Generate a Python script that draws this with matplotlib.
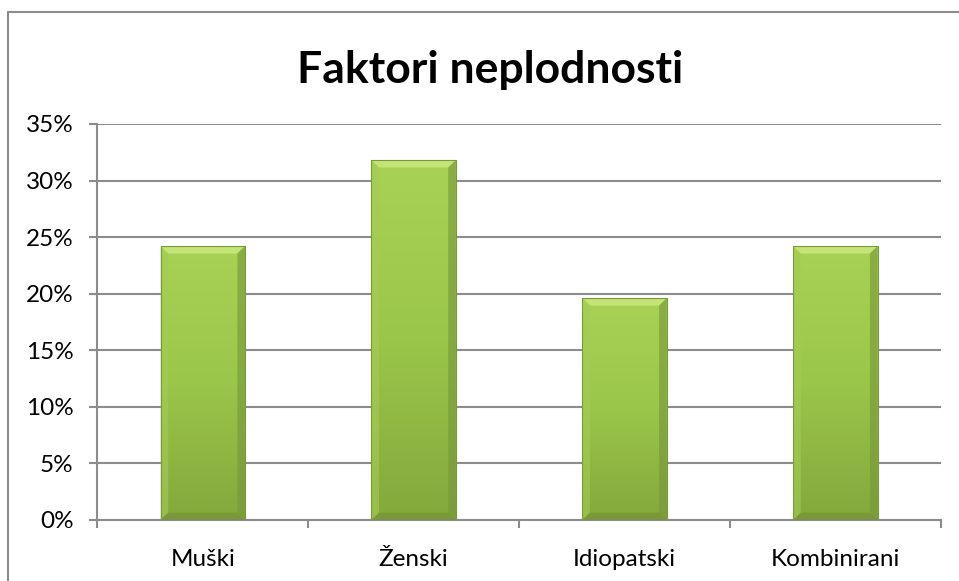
import numpy as np
import matplotlib
matplotlib.use("Agg")
import matplotlib.pyplot as plt
from matplotlib.colors import LinearSegmentedColormap
from matplotlib.patches import Polygon
from matplotlib.lines import Line2D
from matplotlib.ticker import FuncFormatter, MultipleLocator

# chart data
categories = ["Muški", "Ženski", "Idiopatski", "Kombinirani"]
values = [24.2, 31.8, 19.6, 24.2]
title = "Faktori neplodnosti"

plt.rcParams['font.family'] = ['Lato', 'DejaVu Sans']

grid_color = "#8c8c8c"
fig = plt.figure(figsize=(9.59, 5.81), dpi=100)
ax = fig.add_axes([0.1015, 0.105, 0.8795, 0.6816])

x = np.arange(len(categories))
bar_w = 0.4
bars = ax.bar(x, values, width=bar_w, color="#98c04a", zorder=2)

# gradient fill + bevel on every bar
green = LinearSegmentedColormap.from_list("g", ["#84a83c", "#9ac64a", "#a8d254"])
grad = np.linspace(0, 1, 256).reshape(-1, 1)
bx = 0.036   # bevel in data units (x)
by = 0.65    # bevel in data units (y)
for b in bars:
    x0, w, h = b.get_x(), b.get_width(), b.get_height()
    b.set_facecolor("none")
    im = ax.imshow(grad, cmap=green, aspect="auto", origin="lower",
                   extent=[x0, x0 + w, 0, h], zorder=2)
    im.set_clip_path(b)
    top = Polygon([[x0, h], [x0 + w, h], [x0 + w - bx, h - by], [x0 + bx, h - by]],
                  closed=True, facecolor="#c4e478", edgecolor="none", zorder=3)
    left = Polygon([[x0, 0], [x0, h], [x0 + bx, h - by], [x0 + bx, by]],
                   closed=True, facecolor="#a4cc54", edgecolor="none", alpha=0.6, zorder=3)
    right = Polygon([[x0 + w, 0], [x0 + w, h], [x0 + w - bx, h - by], [x0 + w - bx, by]],
                    closed=True, facecolor="#76963a", edgecolor="none", alpha=0.6, zorder=3)
    bottom = Polygon([[x0, 0], [x0 + w, 0], [x0 + w - bx, by], [x0 + bx, by]],
                     closed=True, facecolor="#6f8c34", edgecolor="none", alpha=0.5, zorder=3)
    for p in (top, left, right, bottom):
        ax.add_patch(p)
    ax.add_patch(Polygon([[x0, 0], [x0, h], [x0 + w, h], [x0 + w, 0]], closed=True,
                         facecolor="none", edgecolor="#7a9a3a", linewidth=0.8, zorder=4))

ax.set_xlim(-0.5, len(categories) - 0.5)
ax.set_ylim(0, 35)
ax.yaxis.set_major_locator(MultipleLocator(5))
ax.yaxis.set_major_formatter(FuncFormatter(lambda v, _: f"{v:.0f}%"))
ax.grid(axis="y", color=grid_color, linewidth=1.5, zorder=0)
ax.set_axisbelow(True)

ax.set_xticks(x)
ax.set_xticklabels(categories)
ax.set_xticks(np.arange(-0.5, len(categories)), minor=True)
ax.tick_params(axis="x", which="major", length=0, pad=21, labelsize=17.5)
ax.tick_params(axis="x", which="minor", length=6, width=1.5, color=grid_color)
ax.tick_params(axis="y", length=6, width=1.5, color=grid_color, pad=11, labelsize=17.5)

for s in ("top", "right"):
    ax.spines[s].set_visible(False)
for s in ("left", "bottom"):
    ax.spines[s].set_color(grid_color)
    ax.spines[s].set_linewidth(1.5)

fig.text(0.511, 0.88, title, ha="center", va="center", fontsize=32, fontweight="bold")

# chart frame (only left and top edges are visible in the crop)
fig.add_artist(Line2D([8 / 959, 8 / 959], [0, 1 - 12 / 581], transform=fig.transFigure,
                      color="#8c8c8c", linewidth=1.5))
fig.add_artist(Line2D([8 / 959, 1], [1 - 12 / 581, 1 - 12 / 581], transform=fig.transFigure,
                      color="#8c8c8c", linewidth=1.5))

fig.savefig("out.png", dpi=100)
